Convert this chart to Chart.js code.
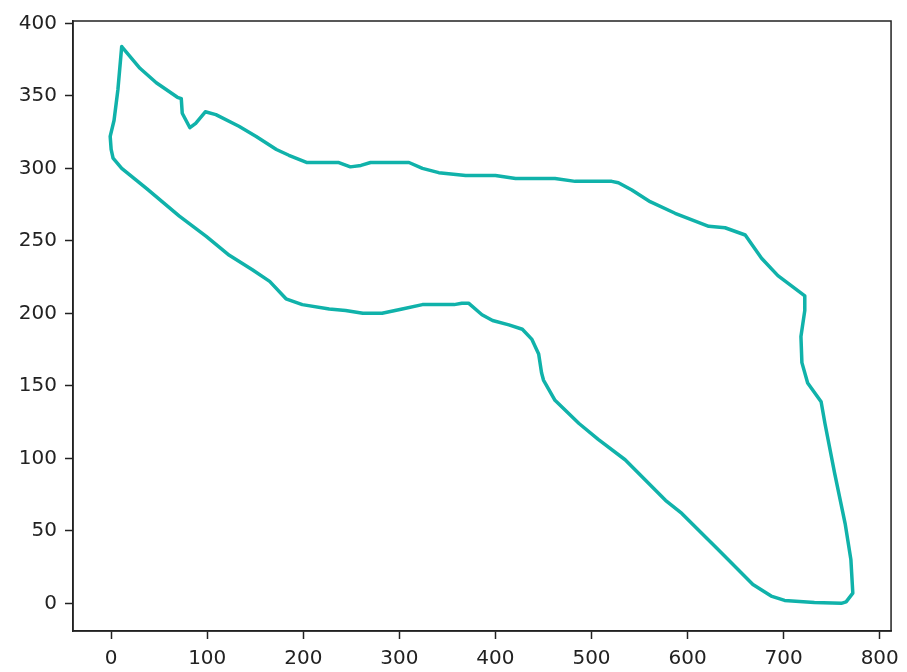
<!DOCTYPE html>
<html lang="en">
<head>
    <meta charset="UTF-8">
    <title>Track outline</title>
    <script src="https://cdn.jsdelivr.net/npm/chart.js"></script>
    <style>
        body { margin: 0; background: #fff; }
        #wrap { width: 907px; height: 672px; }
    </style>
</head>
<body>
<div id="wrap"><canvas id="chartTrack" width="907" height="672"></canvas></div>

<script>
// outline points (clockwise from the top-left peak)
const trackX = [11, 30, 47, 69, 73, 74, 82, 88, 98, 109, 133, 151, 172, 185, 204, 237, 249, 260, 270, 310,
  324, 341, 369, 400, 421, 462, 483, 521, 528, 542, 561, 587, 622, 639, 660, 677, 694, 722, 722, 718,
  719, 725, 739, 743, 753, 764, 770, 772, 765, 760, 732, 701, 687, 668, 653, 632, 594, 577, 535, 507,
  487, 462, 450, 448, 445, 438, 428, 414, 397, 386, 372, 365, 357, 324, 303, 282, 262, 244, 227, 199,
  182, 165, 147, 123, 99, 71, 37, 11, 2, 0, -1, 3, 7, 11]
const trackY = [384, 369, 359, 349, 348, 338, 328, 331, 339, 337, 329, 322, 313, 309, 304, 304, 301, 302, 304, 304,
  300, 297, 295, 295, 293, 293, 291, 291, 290, 285, 277, 269, 260, 259, 254, 238, 226, 212, 202, 184,
  166, 152, 139, 124, 90, 55, 30, 7, 1, 0, 0.5, 2, 5, 13, 23, 37, 62, 71, 99, 113,
  124, 140, 154, 159, 172, 182, 189, 192, 195, 199, 207, 207, 206, 206, 203, 200, 200, 202, 203, 206,
  210, 222, 230, 240, 253, 267, 286, 300, 307, 313, 322, 333, 354, 384]

const xTicks = [0, 100, 200, 300, 400, 500, 600, 700, 800]
const yTicks = [0, 50, 100, 150, 200, 250, 300, 350, 400]

const points = trackX.map((x, i) => ({ x: x, y: trackY[i] }))

// matplotlib-like frame on all four sides
const frame = {
  id: 'frame',
  afterDraw(chart) {
    const a = chart.chartArea
    const ctx = chart.ctx
    ctx.save()
    ctx.strokeStyle = '#222'
    ctx.lineWidth = 1.5
    ctx.strokeRect(a.left, a.top, a.right - a.left, a.bottom - a.top)
    ctx.restore()
  }
}

const tickFont = { family: 'DejaVu Sans', size: 20 }

new Chart(document.getElementById('chartTrack'), {
  type: 'scatter',
  data: {
    datasets: [{
      data: points,
      showLine: true,
      borderColor: '#10b2aa',
      borderWidth: 3.5,
      borderJoinStyle: 'round',
      borderCapStyle: 'round',
      pointRadius: 0,
      tension: 0,
      fill: false
    }]
  },
  options: {
    responsive: false,
    animation: false,
    layout: { padding: { top: 21, right: 14, left: 0, bottom: 0 } },
    plugins: { legend: { display: false }, tooltip: { enabled: false } },
    scales: {
      x: {
        type: 'linear',
        min: -39.7,
        max: 811.8,
        afterFit: s => { s.height = 41 },
        afterBuildTicks: s => { s.ticks = xTicks.map(v => ({ value: v })) },
        ticks: { font: tickFont, color: '#222', padding: 8, maxRotation: 0 },
        grid: { drawOnChartArea: false, tickLength: 8, tickColor: '#222', tickWidth: 1.5 },
        border: { display: true, color: '#222', width: 1.5 }
      },
      y: {
        type: 'linear',
        min: -19.1,
        max: 401.6,
        afterFit: s => { s.width = 73 },
        afterBuildTicks: s => { s.ticks = yTicks.map(v => ({ value: v })) },
        ticks: { font: tickFont, color: '#222', padding: 8 },
        grid: { drawOnChartArea: false, tickLength: 8, tickColor: '#222', tickWidth: 1.5 },
        border: { display: true, color: '#222', width: 1.5 }
      }
    }
  },
  plugins: [frame]
})
</script>
</body>
</html>
